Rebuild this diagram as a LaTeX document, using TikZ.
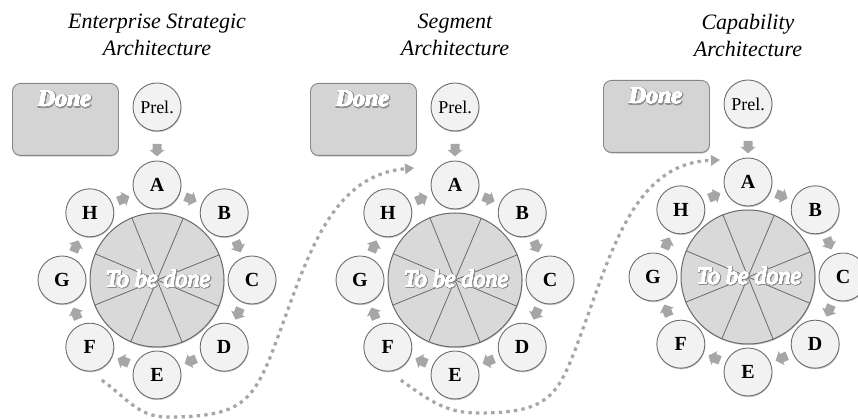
\documentclass[tikz,border=0pt]{standalone}
\usepackage{fontspec}
\setmainfont{Liberation Serif}
\usepackage{contour}
\usetikzlibrary{calc,shadows,arrows.meta}

\definecolor{ringfill}{HTML}{F2F2F2}
\definecolor{ringline}{HTML}{6E6E6E}
\definecolor{hubfill}{HTML}{D9D9D9}
\definecolor{hubline}{HTML}{6A6A6A}
\definecolor{boxfill}{HTML}{D4D4D4}
\definecolor{boxline}{HTML}{878787}
\definecolor{arrowgray}{HTML}{A6A6A6}
\definecolor{halo}{HTML}{8F8F8F}

\contournumber{24}

% white lettering with a soft grey shadow
\newcommand\shadetext[1]{{\contourlength{1.1pt}\contour{halo}{#1}}}
\newcommand\whitetext[1]{{\contourlength{0.35pt}\contour{white}{#1}}}

\tikzset{
  softshadow/.style={drop shadow={shadow xshift=0.5pt, shadow yshift=-1.2pt, fill=black, opacity=0.22}},
  phase/.style={circle, minimum size=48pt, inner sep=0pt, fill=ringfill, draw=ringline,
    line width=0.9pt, softshadow, font=\fontsize{20}{20}\selectfont\bfseries},
  prelnode/.style={phase, font=\fontsize{18}{18}\selectfont},
  hub/.style={circle, minimum size=134pt, inner sep=0pt, fill=hubfill, draw=hubline,
    line width=1pt, softshadow},
  sector/.style={draw=hubline, line width=0.8pt},
  hubfont/.style={font=\fontsize{24}{24}\selectfont\itshape, inner sep=0pt},
  donefont/.style={font=\fontsize{24}{24}\selectfont\bfseries\itshape, inner sep=0pt},
  shade layer/.style={text=halo, text opacity=0.75},
  white layer/.style={text=white},
  donebox/.style={rectangle, rounded corners=8pt, minimum width=106pt, minimum height=72pt,
    fill=boxfill, draw=boxline, line width=0.9pt, softshadow, inner sep=0pt},
  titletext/.style={align=center, anchor=north, inner sep=0pt,
    font=\fontsize{22}{27}\selectfont\itshape},
  dotted link/.style={draw=arrowgray, line width=3.2pt, dash pattern=on 3.4pt off 4.2pt,
    -{Triangle[length=9pt,width=11pt,line width=0pt]}},
}

% small gray block arrow centred on #1, pointing in direction #2
\newcommand\blockarrow[2]{%
  \fill[arrowgray, shift={#1}, rotate=#2]
    (-6,-4.5) -- (0,-4.5) -- (0,-7.5) -- (6.5,0) -- (0,7.5) -- (0,4.5) -- (-6,4.5) -- cycle;}

% one ADM cycle: #1 name prefix, #2 x and #3 y of the hub centre, #4 title
\newcommand\admcycle[4]{%
  \coordinate (#1c) at (#2,#3);
  \node[titletext] (#1title) at (#2,405) {#4};
  \node[donebox, anchor=north west] (#1done) at ($(#1c)+(-145,197)$) {};
  \coordinate (#1donetextpos) at ($(#1done.north)+(-1,-16)$);
  \node[donefont, shade layer] (#1doneshade) at ($(#1donetextpos)+(0.7,-1)$) {\shadetext{Done}};
  \node[donefont, white layer] (#1donelabel) at (#1donetextpos) {\whitetext{Done}};
  \node[hub] (#1hub) at (#1c) {};
  \foreach \ang in {22.5,67.5,112.5,157.5}
    \draw[sector] (#1hub.\ang) -- (#1hub.\ang+180);
  \coordinate (#1hubtextpos) at ($(#1c)+(1,1)$);
  \node[hubfont, shade layer] (#1hubshade) at ($(#1hubtextpos)+(0.7,-1)$) {\shadetext{To be done}};
  \node[hubfont, white layer] (#1hublabel) at (#1hubtextpos) {\whitetext{To be done}};
  \node[prelnode] (#1prel) at ($(#1c)+(0,173)$) {Prel.};
  \foreach \ph/\ang in {A/90,B/45,C/0,D/-45,E/-90,F/-135,G/180,H/135}
    \node[phase] (#1\ph) at ($(#1c)+(\ang:95)$) {\ph};
  \blockarrow{($(#1prel)!0.55!(#1A)$)}{-90}
  \foreach \u/\v/\r in {A/B/-22.5,B/C/-67.5,C/D/-112.5,D/E/-157.5,
                        E/F/-202.5,F/G/-247.5,G/H/-292.5,H/A/-337.5}
    {\blockarrow{($(#1\u)!0.5!(#1\v)$)}{\r}}
}

\begin{document}
\begin{tikzpicture}[x=1pt, y=1pt]
  \useasboundingbox (0,0) rectangle (858,419);

  \admcycle{p}{157}{139}{Enterprise Strategic\\Architecture}
  \admcycle{q}{455}{139}{Segment\\Architecture}
  \admcycle{r}{748}{142}{Capability\\Architecture}

  % hand-over from one level of architecture to the next
  \coordinate (pq start) at ($(pF)+(12,-33)$);
  \coordinate (pq low)   at ($(pE)+(10,-42)$);
  \coordinate (pq turn)  at ($(pc)+(126,-43)$);
  \coordinate (pq end)   at ($(qA)+(-41,17)$);
  \draw[dotted link] (pq start) to[out=-35, in=180] (pq low)
    to[out=0, in=-110, looseness=1.4] (pq turn)
    to[out=70, in=185] (pq end);

  \coordinate (qr start) at ($(qF)+(13,-33)$);
  \coordinate (qr low)   at ($(qE)+(22,-38)$);
  \coordinate (qr turn)  at ($(qc)+(130,-43)$);
  \coordinate (qr end)   at ($(rA)+(-28,22)$);
  \draw[dotted link] (qr start) to[out=-35, in=180] (qr low)
    to[out=0, in=-110, looseness=1.4] (qr turn)
    to[out=70, in=182] (qr end);
\end{tikzpicture}
\end{document}
